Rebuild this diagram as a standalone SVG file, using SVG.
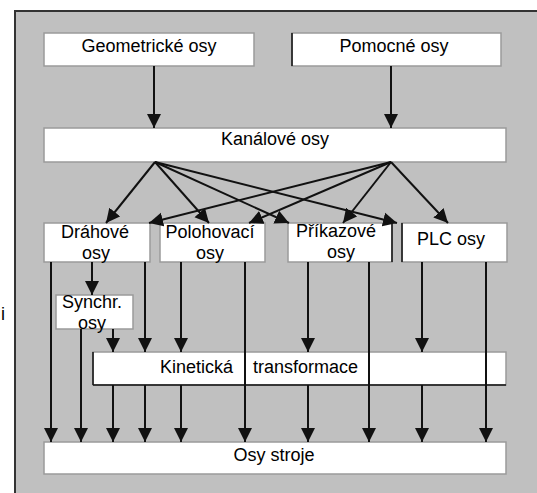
<svg xmlns="http://www.w3.org/2000/svg" width="537" height="493" viewBox="0 0 537 493">
<style>
.box{fill:#ffffff;stroke:#9a9a9a;stroke-width:1.5}
.dk{stroke:#111;stroke-width:1.5}
.t{font-family:"Liberation Sans",Arial,sans-serif;font-size:18px;fill:#000}
.c{stroke:#111;stroke-width:2;fill:none;marker-end:url(#ah)}
</style>
<defs>
<marker id="ah" markerUnits="userSpaceOnUse" markerWidth="15" markerHeight="15" viewBox="0 0 15 15" refX="14" refY="7.5" orient="auto">
<path d="M0,0.5 L14,7.5 L0,14.5 z" fill="#111"/>
</marker>
</defs>
<rect x="0" y="0" width="537" height="493" fill="#ffffff"/>
<rect x="15" y="11" width="522" height="482" fill="#c0c0c0"/>
<line x1="14" y1="11" x2="537" y2="11" stroke="#333" stroke-width="2"/>
<line x1="15" y1="10" x2="15" y2="493" stroke="#333" stroke-width="2"/>
<text class="t" x="1" y="320">i</text>

<g id="geometricke">
<rect class="box" x="44" y="33" width="210" height="33"/>
<text class="t" x="149" y="52" text-anchor="middle">Geometrické osy</text>
</g>
<g id="pomocne">
<rect class="box" x="292" y="33" width="209" height="33"/>
<line class="dk" x1="292" y1="33" x2="292" y2="66"/>
<text class="t" x="394" y="52" text-anchor="middle">Pomocné osy</text>
</g>
<g id="kanalove">
<rect class="box" x="44" y="128" width="462" height="34"/>
<text class="t" x="275" y="145" text-anchor="middle">Kanálové osy</text>
</g>
<g id="drahove">
<rect class="box" x="44" y="223" width="106" height="39"/>
<text class="t" x="95" y="238" text-anchor="middle">Dráhové</text>
<text class="t" x="96" y="259" text-anchor="middle">osy</text>
</g>
<g id="polohovaci">
<rect class="box" x="160" y="223" width="105" height="39"/>
<text class="t" x="210" y="238" text-anchor="middle">Polohovací</text>
<text class="t" x="210" y="259" text-anchor="middle">osy</text>
</g>
<g id="prikazove">
<rect class="box" x="288" y="223" width="104" height="39"/>
<line class="dk" x1="392" y1="223" x2="392" y2="262"/>
<text class="t" x="336" y="237" text-anchor="middle">Příkazové</text>
<text class="t" x="341" y="258" text-anchor="middle">osy</text>
</g>
<g id="plc">
<rect class="box" x="402" y="223" width="105" height="39"/>
<line class="dk" x1="402" y1="223" x2="402" y2="262"/>
<text class="t" x="451" y="245" text-anchor="middle">PLC osy</text>
</g>
<g id="synchr">
<rect class="box" x="56" y="295" width="77" height="34"/>
<text class="t" x="92" y="308" text-anchor="middle">Synchr.</text>
<text class="t" x="92" y="329" text-anchor="middle">osy</text>
</g>
<g id="kineticka">
<rect class="box" x="93" y="352" width="413" height="33"/>
<line class="dk" x1="93" y1="352" x2="93" y2="385"/>
<line class="dk" x1="93" y1="385" x2="506" y2="385"/>
<text class="t" x="160" y="373">Kinetická</text>
<text class="t" x="253" y="373">transformace</text>
</g>
<g id="osystroje">
<rect class="box" x="44" y="442" width="462" height="32"/>
<text class="t" x="274" y="461" text-anchor="middle">Osy stroje</text>
</g>

<g id="connectors">
<line class="c" x1="154" y1="66" x2="154" y2="128"/>
<line class="c" x1="391" y1="66" x2="391" y2="128"/>

<line class="c" x1="155" y1="162" x2="106" y2="223"/>
<line class="c" x1="155" y1="162" x2="209" y2="223"/>
<line class="c" x1="155" y1="162" x2="289" y2="223"/>
<line class="c" x1="155" y1="162" x2="397" y2="223"/>
<line class="c" x1="391" y1="162" x2="149" y2="223"/>
<line class="c" x1="391" y1="162" x2="249" y2="223"/>
<line class="c" x1="391" y1="162" x2="343" y2="223"/>
<line class="c" x1="391" y1="162" x2="448" y2="223"/>

<line class="c" x1="92" y1="262" x2="92" y2="295"/>
<line class="c" x1="51" y1="262" x2="51" y2="442"/>
<line class="c" x1="145" y1="262" x2="145" y2="352"/>
<line class="c" x1="81" y1="329" x2="81" y2="442"/>
<line class="c" x1="113" y1="329" x2="113" y2="352"/>
<line class="c" x1="181" y1="262" x2="181" y2="352"/>
<line class="c" x1="245" y1="262" x2="245" y2="442"/>
<line class="c" x1="308" y1="262" x2="308" y2="352"/>
<line class="c" x1="369" y1="262" x2="369" y2="442"/>
<line class="c" x1="422" y1="262" x2="422" y2="352"/>
<line class="c" x1="486" y1="262" x2="486" y2="442"/>

<line class="c" x1="113" y1="385" x2="113" y2="442"/>
<line class="c" x1="145" y1="385" x2="145" y2="442"/>
<line class="c" x1="181" y1="385" x2="181" y2="442"/>
<line class="c" x1="308" y1="385" x2="308" y2="442"/>
<line class="c" x1="422" y1="385" x2="422" y2="442"/>
</g>
</svg>
